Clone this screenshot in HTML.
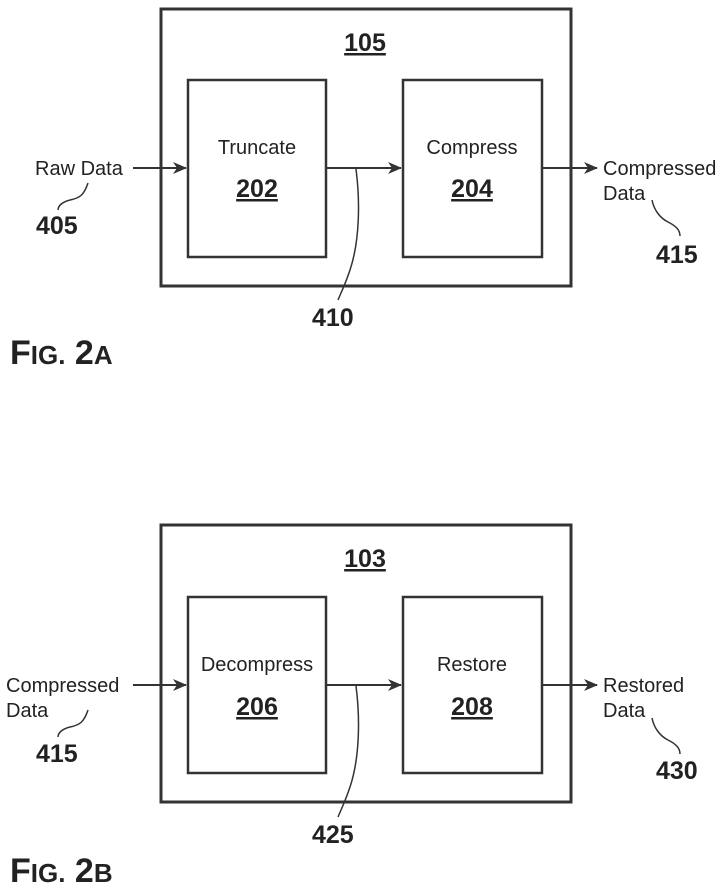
<!DOCTYPE html>
<html><head><style>
html,body{margin:0;padding:0;background:#fff;}
svg{display:block;}
text{font-family:"Liberation Sans",sans-serif;fill:#222;}
.l{font-size:20px;}
.n{font-size:25px;font-weight:bold;}
.f{font-size:34px;font-weight:bold;}
</style></head><body>
<svg width="726" height="893" viewBox="0 0 726 893" xmlns="http://www.w3.org/2000/svg">
<defs><marker id="a" markerWidth="14" markerHeight="12" refX="13" refY="6" orient="auto" markerUnits="userSpaceOnUse"><path d="M0,0 L14,6 L0,12 L4,6 Z" fill="#333"/></marker></defs>
<g fill="none" stroke="#333">
<rect x="161" y="9" width="410" height="277" stroke-width="3"/>
<rect x="188" y="80" width="138" height="177" stroke-width="2.5"/>
<rect x="403" y="80" width="139" height="177" stroke-width="2.5"/>
<line x1="133" y1="168" x2="186" y2="168" stroke-width="2" marker-end="url(#a)"/>
<line x1="327" y1="168" x2="401" y2="168" stroke-width="2" marker-end="url(#a)"/>
<line x1="543" y1="168" x2="597" y2="168" stroke-width="2" marker-end="url(#a)"/>
<path d="M356,169 C360,200 360,240 350,270 C345,285 340,295 338,300" stroke-width="1.5"/>
<path d="M88,183 C84,195 80,198 70,200 C62,202 58,206 58,210" stroke-width="1.5"/>
<path d="M652,200 C654,210 660,218 668,222 C676,226 680,230 680,236" stroke-width="1.5"/>
<rect x="161" y="525" width="410" height="277" stroke-width="3"/>
<rect x="188" y="597" width="138" height="176" stroke-width="2.5"/>
<rect x="403" y="597" width="139" height="176" stroke-width="2.5"/>
<line x1="133" y1="685" x2="186" y2="685" stroke-width="2" marker-end="url(#a)"/>
<line x1="327" y1="685" x2="401" y2="685" stroke-width="2" marker-end="url(#a)"/>
<line x1="543" y1="685" x2="597" y2="685" stroke-width="2" marker-end="url(#a)"/>
<path d="M356,686 C360,717 360,757 350,787 C345,802 340,812 338,817" stroke-width="1.5"/>
<path d="M88,710 C84,722 80,725 70,727 C62,729 58,733 58,737" stroke-width="1.5"/>
<path d="M652,718 C654,728 660,736 668,740 C676,744 680,748 680,754" stroke-width="1.5"/>
</g>
<text class="n" x="365" y="51" text-anchor="middle" text-decoration="underline">105</text>
<text class="l" x="257" y="154" text-anchor="middle">Truncate</text>
<text class="n" x="257" y="197" text-anchor="middle" text-decoration="underline">202</text>
<text class="l" x="472" y="154" text-anchor="middle">Compress</text>
<text class="n" x="472" y="197" text-anchor="middle" text-decoration="underline">204</text>
<text class="l" x="35" y="175">Raw Data</text>
<text class="n" x="36" y="234">405</text>
<text class="l" x="603" y="175">Compressed</text>
<text class="l" x="603" y="200">Data</text>
<text class="n" x="656" y="263">415</text>
<text class="n" x="312" y="326">410</text>
<text class="f" x="10" y="364">F<tspan font-size="26">IG.</tspan> 2<tspan font-size="26">A</tspan></text>
<text class="n" x="365" y="567" text-anchor="middle" text-decoration="underline">103</text>
<text class="l" x="257" y="671" text-anchor="middle">Decompress</text>
<text class="n" x="257" y="715" text-anchor="middle" text-decoration="underline">206</text>
<text class="l" x="472" y="671" text-anchor="middle">Restore</text>
<text class="n" x="472" y="715" text-anchor="middle" text-decoration="underline">208</text>
<text class="l" x="6" y="692">Compressed</text>
<text class="l" x="6" y="717">Data</text>
<text class="n" x="36" y="762">415</text>
<text class="l" x="603" y="692">Restored</text>
<text class="l" x="603" y="717">Data</text>
<text class="n" x="656" y="779">430</text>
<text class="n" x="312" y="843">425</text>
<text class="f" x="10" y="882">F<tspan font-size="26">IG.</tspan> 2<tspan font-size="26">B</tspan></text>
</svg>
</body></html>
